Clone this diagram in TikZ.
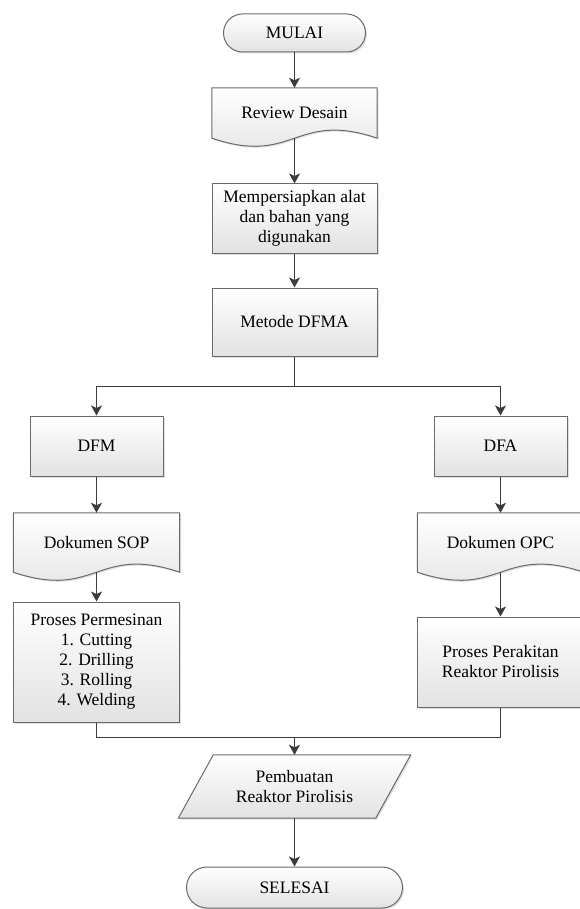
\documentclass[tikz,border=0pt]{standalone}
\usepackage{fontspec}
\setmainfont{Liberation Serif}
\usetikzlibrary{arrows.meta,shapes.misc,shadows,backgrounds,calc}
\definecolor{edgec}{HTML}{6A6A6A}
\definecolor{linec}{HTML}{3C3C3C}
\definecolor{boxbot}{HTML}{E2E2E2}
\newcommand{\figfont}{\fontsize{17.5}{20}\selectfont}
\tikzset{
  base/.style={draw=edgec, line width=1pt, top color=white, bottom color=boxbot,
    drop shadow={opacity=0.25, shadow xshift=1.5pt, shadow yshift=-1.5pt}},
  procbox/.style={base, rectangle, inner sep=0pt, align=center, font=\figfont},
  termbox/.style={base, rounded rectangle, inner sep=0pt, font=\figfont},
  txtbox/.style={rectangle, inner sep=0pt, align=center, font=\figfont},
  arr/.style={draw=linec, line width=1.1pt, -{Stealth[length=10pt,width=11pt,inset=2.5pt]}},
  ln/.style={draw=linec, line width=1.1pt},
}
\newcommand{\docpath}[1]{%
  \path[base] (#1.south west) -- (#1.north west) -- (#1.north east) -- (#1.south east)
    .. controls ($(#1.south)+(0,-28)$) and ($(#1.south)+(0,28)$) .. (#1.south west) -- cycle;}
\begin{document}
\begin{tikzpicture}[x=1pt,y=-1pt]
\useasboundingbox (0,0) rectangle (579,909);
% nodes
\node[termbox, minimum width=142pt, minimum height=38pt] (mulai) at (294.5,33) {MULAI};
\node[txtbox, minimum width=165pt, minimum height=50pt] (review) at (294.5,113) {Review Desain};
\node[procbox, minimum width=165pt, minimum height=69pt] (prep) at (294.5,218.5)
  {Mempersiapkan alat\\dan bahan yang\\digunakan};
\node[procbox, minimum width=165pt, minimum height=68pt] (dfma) at (294.5,322) {Metode DFMA};
\node[procbox, minimum width=133pt, minimum height=60pt] (dfm) at (96.5,446) {DFM};
\node[procbox, minimum width=133pt, minimum height=60pt] (dfa) at (500.5,446) {DFA};
\node[txtbox, minimum width=166pt, minimum height=59pt] (sop) at (96.5,542.5) {Dokumen SOP};
\node[txtbox, minimum width=166pt, minimum height=59pt] (opc) at (500.5,542.5) {Dokumen OPC};
\node[procbox, minimum width=166pt, minimum height=120pt] (perm) at (96.5,662)
  {Proses Permesinan\\1. Cutting\\2. Drilling\\3. Rolling\\4. Welding};
\node[procbox, minimum width=166pt, minimum height=90pt] (rak) at (500.5,662)
  {Proses Perakitan\\Reaktor Pirolisis};
\node[txtbox, minimum width=197pt, minimum height=63pt] (make) at (294.5,786.5)
  {Pembuatan\\Reaktor Pirolisis};
\node[termbox, minimum width=216pt, minimum height=41pt] (selesai) at (294.5,887.5) {SELESAI};
% shapes behind text
\begin{pgfonlayer}{background}
  \docpath{review}
  \docpath{sop}
  \docpath{opc}
  \path[base] ($(make.south west)+(-17.5,0)$) -- ($(make.north west)+(17.5,0)$)
    -- ($(make.north east)+(17.5,0)$) -- ($(make.south east)+(-17.5,0)$) -- cycle;
\end{pgfonlayer}
% connectors
\draw[arr] (mulai.south) -- (review.north);
\draw[arr] (review.south) -- (prep.north);
\draw[arr] (prep.south) -- (dfma.north);
\coordinate (split) at ($(dfma.south)+(0,30)$);
\draw[ln] (dfma.south) -- (split);
\draw[arr] (split) -| (dfm.north);
\draw[arr] (split) -| (dfa.north);
\draw[arr] (dfm.south) -- (sop.north);
\draw[arr] (dfa.south) -- (opc.north);
\draw[arr] (sop.south) -- (perm.north);
\draw[arr] (opc.south) -- (rak.north);
\coordinate (mergeL) at ($(perm.south)+(0,15)$);
\draw[ln] (perm.south) -- (mergeL) -| (rak.south);
\coordinate (merge) at (make.north |- mergeL);
\draw[arr] (merge) -- (make.north);
\draw[arr] (make.south) -- (selesai.north);
\end{tikzpicture}
\end{document}
